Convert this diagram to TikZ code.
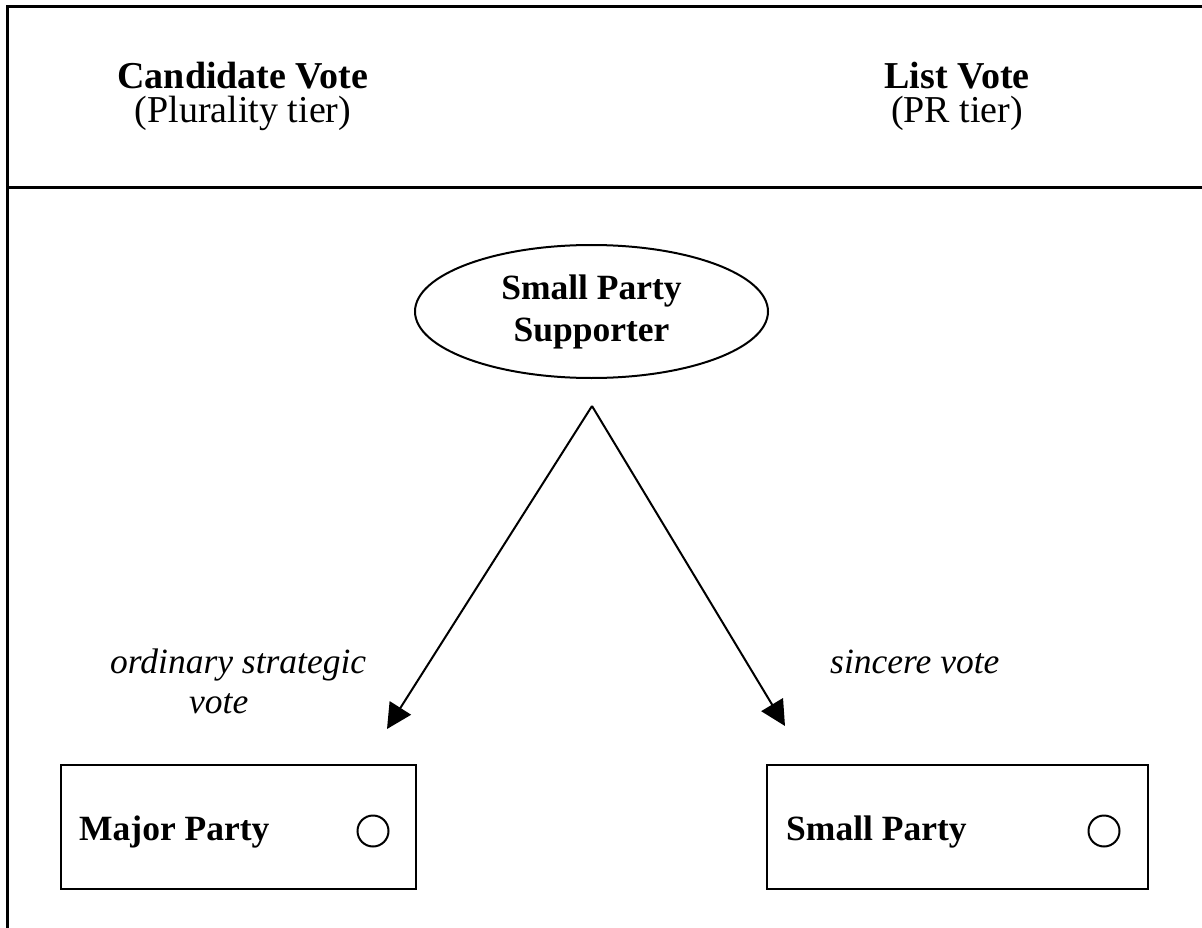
\documentclass[tikz,border=0pt]{standalone}
\usepackage{fontspec}
\setmainfont{Liberation Serif}
\usetikzlibrary{arrows.meta,shapes.geometric}
\begin{document}
\begin{tikzpicture}[x=1pt,y=-1pt,
  frameline/.style={line width=3pt},
  header/.style={anchor=north,inner sep=0pt,align=center,font=\fontsize{38}{34}\selectfont},
  partybox/.style={draw,line width=2.5pt,minimum height=124pt,inner sep=0pt},
  boxtext/.style={anchor=base west,inner sep=0pt,font=\fontsize{35.5}{40}\selectfont\bfseries},
  ballot/.style={draw,circle,line width=2pt,minimum size=31pt,inner sep=0pt},
  votelabel/.style={anchor=base west,inner sep=0pt,font=\fontsize{35.5}{40}\selectfont\itshape},
  choice/.style={line width=2pt,-{Triangle[length=25pt,width=25pt]}}
]
\useasboundingbox (0,0) rectangle (1202,928);
% frame
\draw[frameline] (1205,7) -- (7,7) -- (7,930);
\draw[frameline] (7,188) -- (1205,188);
% headers
\node[header] (candhead) at (243,62) {{\bfseries Candidate Vote}\\(Plurality tier)};
\node[header] (listhead) at (957,62) {{\bfseries List Vote}\\(PR tier)};
% supporter
\node[draw,ellipse,line width=2pt,minimum width=353pt,minimum height=133pt,inner sep=0pt,
  align=center,font=\fontsize{35.5}{42}\selectfont\bfseries] (supp) at (591.5,311.5)
  {Small Party\\Supporter};
% boxes
\node[partybox,minimum width=355pt] (major) at (238.5,827) {};
\node[partybox,minimum width=381pt] (small) at (957.5,827) {};
\node[boxtext] (majortext) at (79,840) {Major Party};
\node[boxtext] (smalltext) at (786,840) {Small Party};
\node[ballot] (majorcirc) at (373,831) {};
\node[ballot] (smallcirc) at (1104,831) {};
% arrows
\coordinate (apex) at (592,406);
\coordinate (majtip) at (387,729);
\coordinate (smltip) at (785,726);
\draw[choice] (apex) -- (majtip);
\draw[choice] (apex) -- (smltip);
% labels
\node[votelabel] (strat1) at (110,673) {ordinary strategic};
\node[votelabel] (strat2) at (189,713) {vote};
\node[votelabel] (sinc) at (830,673) {sincere vote};
\end{tikzpicture}
\end{document}
